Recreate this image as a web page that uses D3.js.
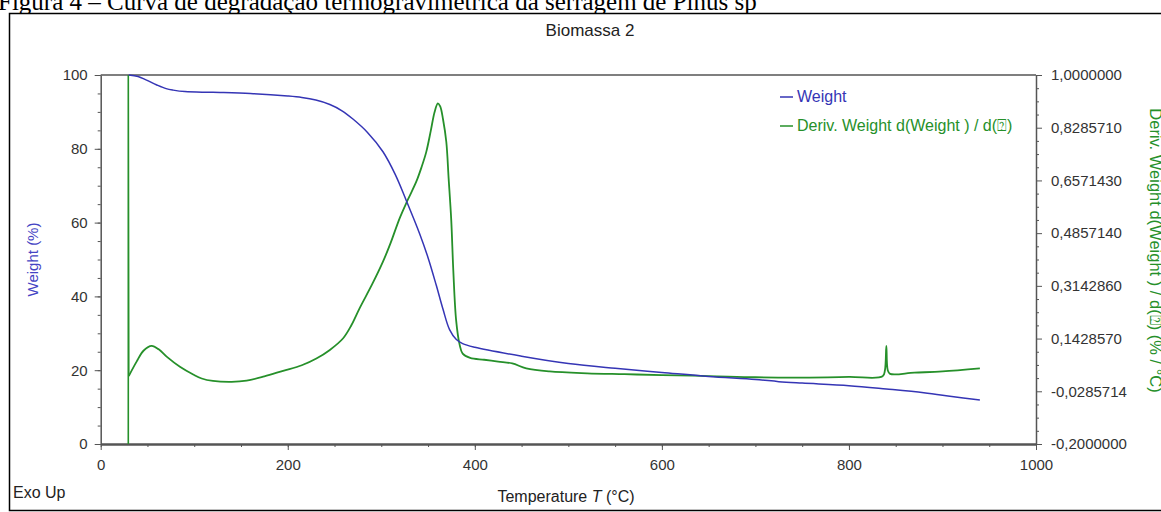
<!DOCTYPE html>
<html>
<head>
<meta charset="utf-8">
<script src="https://cdn.jsdelivr.net/npm/d3@7"></script>
<style>
  body { margin: 0; background: #fff; }
  svg text { font-family: "Liberation Sans", Arial, sans-serif; }
  svg text.caption { font-family: "Liberation Serif", "Times New Roman", serif; }
  .axis path, .axis line { stroke: #555; }
  .axis text { fill: #333; font-size: 15px; }
</style>
</head>
<body>
<div id="chart"></div>
<script>
// weight curve (%), temperature in °C
var weightT = [30, 40, 49, 60, 70, 77.5, 90, 120, 160, 200, 215, 230, 245, 258, 270, 285, 301.8, 315, 326.7, 341, 350, 358.8, 366, 373, 380, 387, 400, 450, 500, 550, 600, 650, 700, 725, 750, 800, 840, 880, 910, 940];
var weightPct = [100, 99.6, 98.6, 97.3, 96.3, 95.9, 95.5, 95.3, 95.0, 94.3, 93.9, 93.2, 92.0, 90.3, 88.0, 84.5, 79.2, 73.0, 66.0, 57.0, 50.5, 43.0, 36.5, 31.0, 28.4, 27.2, 26.2, 23.8, 21.8, 20.5, 19.4, 18.3, 17.5, 16.9, 16.5, 15.8, 14.9, 13.9, 12.9, 11.9];

// derivative curve (% / °C)
var derivT = [29.5, 29.5, 30, 38.4, 46, 54.5, 62, 70.5, 84.7, 98.9, 108, 120, 140, 156, 175, 195, 215, 230.6, 245, 259, 268, 276.9, 290, 301.8, 310, 319.6, 328, 337.4, 343, 348.1, 353, 357, 360.5, 363, 366, 369.5, 372, 374.8, 377, 380, 383.7, 387, 395, 410, 425, 440, 455, 480, 520, 560, 600, 650, 700, 750, 800, 836, 838.5, 840, 841.5, 844, 870, 900, 940];
var derivVal = [-0.2, 1.0, 0.021, 0.068, 0.104, 0.119, 0.108, 0.084, 0.051, 0.026, 0.013, 0.005, 0.002, 0.006, 0.020, 0.038, 0.056, 0.078, 0.106, 0.143, 0.186, 0.242, 0.318, 0.393, 0.454, 0.534, 0.592, 0.653, 0.70, 0.750, 0.82, 0.88, 0.908, 0.898, 0.856, 0.783, 0.664, 0.528, 0.364, 0.203, 0.124, 0.094, 0.080, 0.074, 0.068, 0.062, 0.046, 0.036, 0.030, 0.027, 0.024, 0.021, 0.017, 0.016, 0.018, 0.020, 0.04, 0.119, 0.04, 0.028, 0.032, 0.036, 0.046];

var xTicks = [0, 200, 400, 600, 800, 1000];
var yTicks = [0, 20, 40, 60, 80, 100];
var y2Ticks = [-0.2, -0.0285714, 0.142857, 0.314286, 0.485714, 0.657143, 0.828571, 1.0];
var y2Labels = ['-0,2000000', '-0,0285714', '0,1428570', '0,3142860', '0,4857140', '0,6571430', '0,8285710', '1,0000000'];

var blue = '#3535b5';
var green = '#26902a';

var width = 1161, height = 512;
var pLeft = 100.7, pRight = 1036, pTop = 75, pBottom = 444;

var svg = d3.select('#chart').append('svg')
  .attr('width', width)
  .attr('height', height);

// caption above the frame
svg.append('text')
  .attr('class', 'caption')
  .attr('x', -2)
  .attr('y', 10)
  .attr('font-size', 25)
  .attr('fill', '#000')
  .text('Figura 4 – Curva de degradação termogravimétrica da serragem de Pinus sp');

// frame
svg.append('rect')
  .attr('x', 9.5).attr('y', 13.5)
  .attr('width', 1200).attr('height', 497)
  .attr('fill', '#fff')
  .attr('stroke', '#000')
  .attr('stroke-width', 1.5);

var x = d3.scaleLinear().domain([0, 1000]).range([pLeft, pRight]);
var y = d3.scaleLinear().domain([0, 100]).range([pBottom, pTop]);
var y2 = d3.scaleLinear().domain([-0.2, 1.0]).range([pBottom, pTop]);

// top border of plot
svg.append('line')
  .attr('x1', pLeft).attr('x2', pRight)
  .attr('y1', pTop).attr('y2', pTop)
  .attr('stroke', '#555').attr('stroke-width', 1.5);

// minor ticks
svg.append('g').attr('class', 'axis')
  .attr('transform', 'translate(0,' + pBottom + ')')
  .call(d3.axisBottom(x).tickValues(d3.range(0, 1001, 50)).tickSize(3).tickFormat(''))
  .select('.domain').remove();
svg.append('g').attr('class', 'axis')
  .attr('transform', 'translate(' + pLeft + ',0)')
  .call(d3.axisLeft(y).tickValues(d3.range(0, 101, 5)).tickSize(3).tickFormat(''))
  .select('.domain').remove();
var y2Minor = [];
for (var i = 0; i < y2Ticks.length - 1; i++) {
  for (var k = 1; k < 4; k++) y2Minor.push(y2Ticks[i] + (y2Ticks[i + 1] - y2Ticks[i]) * k / 4);
}
svg.append('g').attr('class', 'axis')
  .attr('transform', 'translate(' + pRight + ',0)')
  .call(d3.axisRight(y2).tickValues(y2Minor).tickSize(3).tickFormat(''))
  .select('.domain').remove();

// major axes
var xAxis = svg.append('g').attr('class', 'axis')
  .attr('transform', 'translate(0,' + pBottom + ')')
  .call(d3.axisBottom(x).tickValues(xTicks).tickSize(6).tickSizeOuter(0).tickPadding(9)
    .tickFormat(d3.format('d')));
xAxis.select('.domain').attr('stroke-width', 2.5);

svg.append('g').attr('class', 'axis')
  .attr('transform', 'translate(' + pLeft + ',0)')
  .call(d3.axisLeft(y).tickValues(yTicks).tickSize(6).tickSizeOuter(0).tickPadding(7))
  .select('.domain').attr('stroke-width', 1.5);

svg.append('g').attr('class', 'axis')
  .attr('transform', 'translate(' + pRight + ',0)')
  .call(d3.axisRight(y2).tickValues(y2Ticks).tickSize(6).tickSizeOuter(0).tickPadding(9)
    .tickFormat(function(d, i) { return y2Labels[i]; }))
  .select('.domain').attr('stroke-width', 1.5);

// curves
var weightData = weightT.map(function(t, i) { return [t, weightPct[i]]; });
var derivData = derivT.map(function(t, i) { return [t, derivVal[i]]; });

var derivLine = d3.line()
  .x(function(d) { return x(d[0]); })
  .y(function(d) { return y2(d[1]); });

// initial vertical jump of the derivative
svg.append('path')
  .datum(derivData.slice(0, 3))
  .attr('fill', 'none')
  .attr('stroke', green)
  .attr('stroke-width', 1.6)
  .attr('d', derivLine);

svg.append('path')
  .datum(derivData.slice(2))
  .attr('fill', 'none')
  .attr('stroke', green)
  .attr('stroke-width', 1.8)
  .attr('d', derivLine.curve(d3.curveCatmullRom.alpha(0.5)));

svg.append('path')
  .datum(weightData)
  .attr('fill', 'none')
  .attr('stroke', blue)
  .attr('stroke-width', 1.5)
  .attr('d', d3.line()
    .x(function(d) { return x(d[0]); })
    .y(function(d) { return y(d[1]); })
    .curve(d3.curveCatmullRom.alpha(0.5)));

// title
svg.append('text')
  .attr('x', 590).attr('y', 36)
  .attr('text-anchor', 'middle')
  .attr('font-size', 17)
  .attr('fill', '#222')
  .text('Biomassa 2');

// legend
var legend = [
  { label: 'Weight', color: blue },
  { label: 'Deriv. Weight d(Weight ) / d(\u2370)', color: green }
];
var lg = svg.append('g').selectAll('g')
  .data(legend).enter().append('g')
  .attr('transform', function(d, i) { return 'translate(780,' + (97 + i * 29) + ')'; });
lg.append('line')
  .attr('x1', 0).attr('x2', 13)
  .attr('stroke', function(d) { return d.color; })
  .attr('stroke-width', 1.5);
lg.append('text')
  .attr('x', 17).attr('y', 5)
  .attr('font-size', 16)
  .attr('fill', function(d) { return d.color; })
  .text(function(d) { return d.label; });

// axis titles
svg.append('text')
  .attr('transform', 'translate(38,' + ((pTop + pBottom) / 2) + ') rotate(-90)')
  .attr('text-anchor', 'middle')
  .attr('font-size', 15)
  .attr('fill', '#4444c4')
  .text('Weight  (%)');

svg.append('text')
  .attr('transform', 'translate(1150,' + ((pTop + pBottom) / 2 - 9) + ') rotate(90)')
  .attr('text-anchor', 'middle')
  .attr('font-size', 16.5)
  .attr('fill', green)
  .text('Deriv. Weight d(Weight ) / d(\u2370) (% / °C)');

var xt = svg.append('text')
  .attr('x', 566).attr('y', 502)
  .attr('text-anchor', 'middle')
  .attr('font-size', 16)
  .attr('fill', '#222');
xt.append('tspan').text('Temperature ');
xt.append('tspan').attr('font-style', 'italic').text('T');
xt.append('tspan').text('  (°C)');

svg.append('text')
  .attr('x', 13).attr('y', 498)
  .attr('font-size', 16)
  .attr('fill', '#222')
  .text('Exo Up');
</script>
</body>
</html>
